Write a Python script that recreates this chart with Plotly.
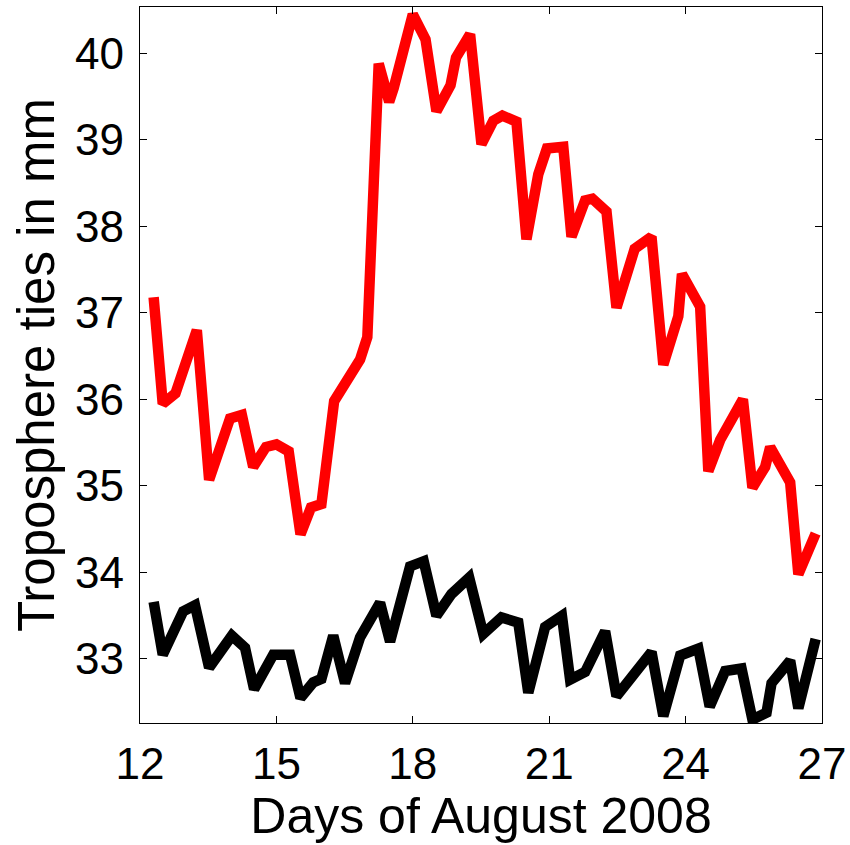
import plotly.graph_objects as go

# Red series (upper curve)
red_days = [12.3, 12.5, 12.78, 13.25, 13.52, 13.72, 13.98, 14.24, 14.49, 14.77, 15.0, 15.27,
            15.53, 15.76, 15.99, 16.27, 16.47, 16.84, 17.0, 17.25, 17.48, 17.58, 18.0, 18.28,
            18.52, 18.83, 18.95, 19.26, 19.51, 19.77, 19.97, 20.28, 20.5, 20.76, 20.95, 21.31,
            21.49, 21.79, 21.95, 22.26, 22.48, 22.88, 23.25, 23.51, 23.84, 23.92, 24.32, 24.5,
            24.76, 24.94, 25.26, 25.47, 25.75, 25.86, 26.3, 26.48, 26.86]
red_vals = [37.18, 35.95, 36.07, 36.80, 35.07, 35.36, 35.78, 35.82, 35.22, 35.45, 35.48, 35.40,
            34.44, 34.75, 34.79, 35.98, 36.14, 36.46, 36.72, 39.88, 39.44, 39.60, 40.45, 40.16,
            39.33, 39.63, 39.95, 40.22, 38.95, 39.22, 39.28, 39.21, 37.85, 38.60, 38.90, 38.92,
            37.88, 38.30, 38.32, 38.17, 37.06, 37.74, 37.88, 36.40, 36.96, 37.45, 37.07, 35.17,
            35.53, 35.70, 36.00, 34.98, 35.22, 35.45, 35.04, 33.98, 34.45]

# Black series (lower curve)
black_days = [12.3, 12.5, 12.95, 13.21, 13.52, 14.02, 14.31, 14.51, 14.93, 15.3, 15.53, 15.81,
              15.99, 16.25, 16.51, 16.84, 17.28, 17.5, 17.94, 18.24, 18.52, 18.85, 19.24, 19.55,
              19.95, 20.32, 20.54, 20.91, 21.28, 21.46, 21.79, 22.23, 22.48, 23.25, 23.51, 23.88,
              24.28, 24.53, 24.87, 25.23, 25.47, 25.78, 25.89, 26.3, 26.48, 26.86]
black_vals = [33.66, 33.05, 33.55, 33.62, 32.90, 33.27, 33.13, 32.65, 33.05, 33.05, 32.55, 32.73,
              32.77, 33.27, 32.72, 33.25, 33.65, 33.20, 34.07, 34.13, 33.50, 33.75, 33.94, 33.29,
              33.48, 33.42, 32.61, 33.37, 33.50, 32.76, 32.85, 33.32, 32.57, 33.08, 32.34, 33.04,
              33.12, 32.45, 32.86, 32.89, 32.30, 32.38, 32.72, 32.98, 32.43, 33.23]

x_ticks = [12, 15, 18, 21, 24, 27]
y_ticks = [33, 34, 35, 36, 37, 38, 39, 40]

FONT = "Liberation Sans, Arial, sans-serif"

fig = go.Figure()
fig.add_trace(go.Scatter(x=red_days, y=red_vals, mode="lines",
                         line=dict(color="#ff0000", width=10.5, shape="linear"),
                         showlegend=False, hoverinfo="skip"))
fig.add_trace(go.Scatter(x=black_days, y=black_vals, mode="lines",
                         line=dict(color="#000000", width=10.5),
                         showlegend=False, hoverinfo="skip"))

axis_common = dict(showline=True, linecolor="black", linewidth=1.3, mirror="ticks",
                   ticks="inside", ticklen=7, tickwidth=1.3, tickcolor="black",
                   showgrid=False, zeroline=False,
                   tickfont=dict(family=FONT, size=44, color="black"))

fig.update_layout(
    width=850, height=845,
    margin=dict(l=140, r=28, t=7, b=122, autoexpand=False),
    paper_bgcolor="white", plot_bgcolor="white",
    xaxis=dict(range=[12, 27], tickvals=x_ticks, ticktext=[str(v) for v in x_ticks],
               title=dict(text="Days of August 2008", font=dict(family=FONT, size=50, color="black"),
                          standoff=6),
               automargin=False, ticklabelstandoff=2, **axis_common),
    yaxis=dict(range=[32.26, 40.535], tickvals=y_ticks, ticktext=[str(v) for v in y_ticks],
               title=dict(text="Troposphere ties in mm", font=dict(family=FONT, size=51, color="black"),
                          standoff=4),
               automargin=False, ticklabelstandoff=6, **axis_common),
)

fig.write_html("out.html")
